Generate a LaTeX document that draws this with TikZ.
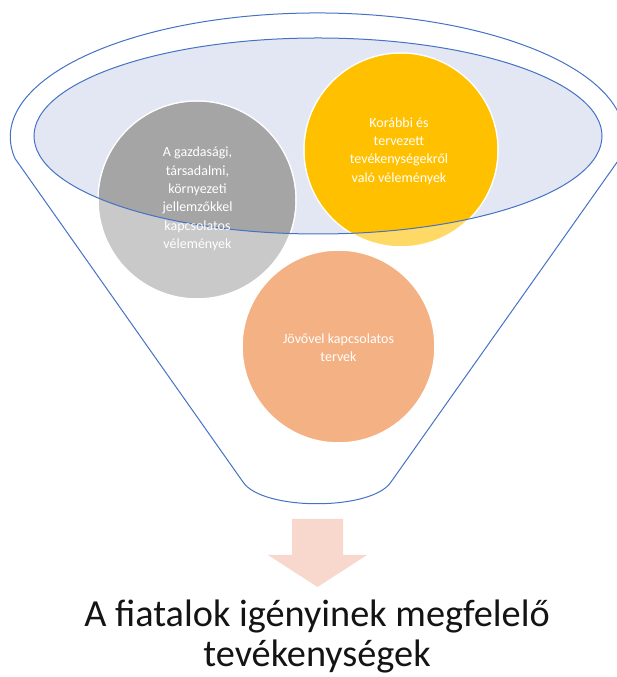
\documentclass[tikz,border=0pt]{standalone}
\usepackage{fontspec}
\setmainfont{Carlito}

\definecolor{ccbleu}{RGB}{68,114,196}
\definecolor{ccciel}{RGB}{226,231,243}
\definecolor{ccgris}{RGB}{165,165,165}
\definecolor{ccgrisclair}{RGB}{201,201,201}
\definecolor{ccjaune}{RGB}{255,192,0}
\definecolor{ccjauneclair}{RGB}{255,217,102}
\definecolor{ccorange}{RGB}{244,177,131}
\definecolor{ccrose}{RGB}{248,215,205}
\definecolor{cctexte}{RGB}{20,20,20}

\tikzset{
  bulle/.style={circle, draw=white, line width=1.5, inner sep=0pt},
  texte bulle/.style={text=white, align=center, font=\fontsize{14}{18.4}\selectfont},
  contour/.style={color=ccbleu, line width=1},
}

\begin{document}
\begin{tikzpicture}[x=1pt, y=1pt]

  % Bounding box of the scheme
  \useasboundingbox (0,0) rectangle (617,677) ;

  %%%%%%%%%%%%%%%%%%%%%%%%%%%%%%%%% Entonnoir %%%%%%%%%%%%%%%%%%%%%%%%%%%%%%%%%%%%
  \draw[contour] (15,518.5) arc [start angle=190, end angle=-10, x radius=307, y radius=124]
    -- (391,195) .. controls (372,166) and (262,166) .. (243,195) -- cycle ;

  % Ouverture
  \fill[color=ccciel] (318,541) ellipse [x radius=284, y radius=98] ;

  %%%%%%%%%%%%%%%%%%%%%%%%%%%%%%%%% Bulles %%%%%%%%%%%%%%%%%%%%%%%%%%%%%%%%%%%%
  \draw (197,477) node[bulle, fill=ccgrisclair, minimum size=198] (gris) {} ;
  \draw (401,527) node[bulle, fill=ccjauneclair, minimum size=194] (jaune) {} ;
  \draw (338.5,330.5) node[bulle, fill=ccorange, minimum size=193] (orange) {} ;

  % Partie dans l'ouverture
  \begin{scope}
    \clip (318,541) ellipse [x radius=284, y radius=98] ;
    \fill[color=ccgris] (gris.center) circle [radius=98.2] ;
    \fill[color=ccjaune] (jaune.center) circle [radius=96.2] ;
  \end{scope}

  \draw[contour] (318,541) ellipse [x radius=284, y radius=98] ;

  %%%%%%%%%%%%%%%%%%%%%%%%%%%%%%%%% Textes %%%%%%%%%%%%%%%%%%%%%%%%%%%%%%%%%%%%
  \draw (197.5,478) node[texte bulle] (tgris) {A gazdasági,\\társadalmi,\\környezeti\\jellemzőkkel\\kapcsolatos\\vélemények} ;
  \draw (399,526) node[texte bulle] (tjaune) {Korábbi és\\tervezett\\tevékenységekről\\való vélemények} ;
  \draw (338.5,329.5) node[texte bulle] (torange) {Jövővel kapcsolatos\\tervek} ;

  % Fleche vers le resultat
  \fill[color=ccrose] (292,158) -- (343,158) -- (343,122) -- (367,122) -- (317.5,90)
    -- (268,122) -- (292,122) -- cycle ;

  \draw (317,4) node[anchor=south, text=cctexte, align=center, inner sep=0pt, font=\fontsize{38.3}{40}\selectfont] (resultat) {A fiatalok igényinek megfelelő\\tevékenységek} ;

\end{tikzpicture}
\end{document}
